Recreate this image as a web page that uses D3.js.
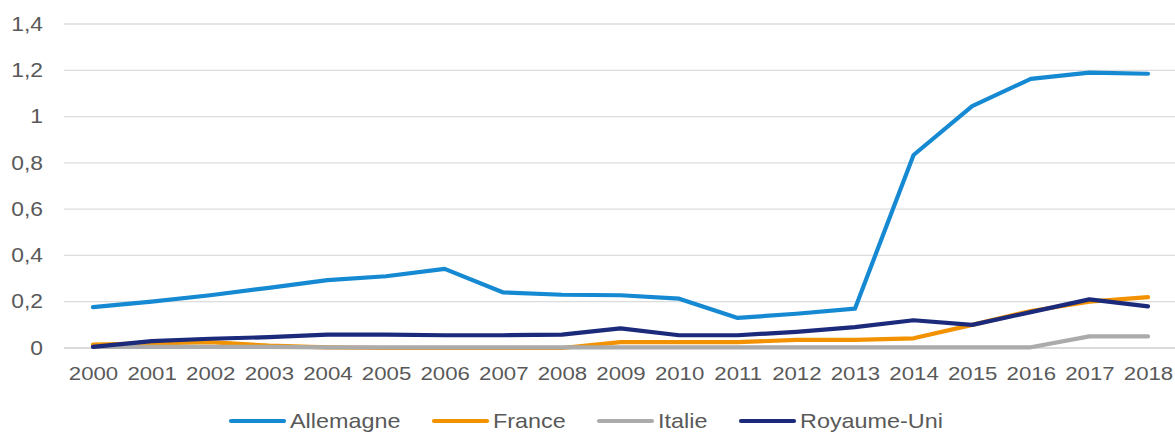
<!DOCTYPE html>
<html><head><meta charset="utf-8">
<script src="https://cdn.jsdelivr.net/npm/d3@7"></script>
<style>body{margin:0;background:#fff}svg{display:block;font-family:"Liberation Sans",Arial,sans-serif}</style>
</head><body><svg id="c" width="1175" height="432"></svg>
<script>
const years = ["2000","2001","2002","2003","2004","2005","2006","2007","2008","2009","2010","2011","2012","2013","2014","2015","2016","2017","2018"];
const allemagne = [0.177,0.2,0.228,0.26,0.293,0.31,0.342,0.24,0.23,0.228,0.213,0.13,0.148,0.17,0.834,1.045,1.163,1.19,1.185];
const france = [0.015,0.02,0.025,0.01,0.003,0.0,0.0,0.0,0.0,0.025,0.025,0.025,0.035,0.035,0.042,0.1,0.16,0.2,0.22];
const italie = [0.005,0.005,0.005,0.005,0.003,0.003,0.003,0.003,0.003,0.003,0.003,0.003,0.003,0.003,0.003,0.003,0.003,0.05,0.05];
const royaumeUni = [0.005,0.03,0.04,0.047,0.058,0.058,0.055,0.055,0.058,0.085,0.055,0.055,0.07,0.09,0.12,0.1,0.155,0.21,0.18];
const yTicks = [0,0.2,0.4,0.6,0.8,1,1.2,1.4];
const seriesNames = ["Allemagne","France","Italie","Royaume-Uni"];
const seriesColors = ["#1589D2","#F39200","#ABABAB","#1B2A7A"];

const series = [allemagne, france, italie, royaumeUni];
const svg = d3.select("#c");
const x = d3.scalePoint().domain(years).range([93,1148]);
const y = d3.scaleLinear().domain([0,1.4]).range([348,24]);
const fmt = d => d3.format(".1f")(d).replace(/\.0$/,"").replace(".",",");
const SX = 1.17;

// grid
svg.append("g").selectAll("line").data(yTicks).join("line")
  .attr("x1",64).attr("x2",1175).attr("y1",d=>y(d)).attr("y2",d=>y(d))
  .attr("stroke",d=>d===0?"#cfcfcf":"#dcdcdc").attr("stroke-width",1.3);

// y axis labels
const ya = svg.append("g").attr("transform","translate(43,0)")
  .call(d3.axisLeft(y).tickValues(yTicks).tickFormat(fmt).tickSize(0).tickPadding(0));
ya.select(".domain").remove();
ya.selectAll("text").attr("fill","#595959").attr("transform",`scale(${SX},1)`)
  .style("font-size","19.5px").style("font-family","Liberation Sans, Arial, sans-serif");

// x axis labels
const xa = svg.append("g").attr("transform","translate(0,366)")
  .call(d3.axisBottom(x).tickSize(0).tickPadding(0));
xa.select(".domain").remove();
xa.selectAll("text").attr("fill","#595959").attr("y",14).attr("dy",0).attr("transform",`scale(${SX},1)`)
  .style("font-size","19px").style("font-family","Liberation Sans, Arial, sans-serif");

// lines
const line = d3.line().x((d,i)=>x(years[i])).y(d=>y(d));
[1,2,3,0].forEach(k=>{
  svg.append("path").datum(series[k]).attr("d",line).attr("fill","none")
    .attr("stroke",seriesColors[k]).attr("stroke-width",4.2).attr("stroke-linejoin","round").attr("stroke-linecap","round");
});

// legend
const legX = [231,434,599,741];
const lg = svg.append("g");
seriesNames.forEach((n,i)=>{
  lg.append("line").attr("x1",legX[i]).attr("x2",legX[i]+53).attr("y1",421).attr("y2",421)
    .attr("stroke",seriesColors[i]).attr("stroke-width",4.2).attr("stroke-linecap","round");
  lg.append("g").attr("transform",`translate(${legX[i]+59},421)`)
    .append("text").attr("transform",`scale(${SX},1)`).attr("dy","0.35em")
    .attr("fill","#595959").style("font-size","20px").text(n);
});
</script></body></html>
